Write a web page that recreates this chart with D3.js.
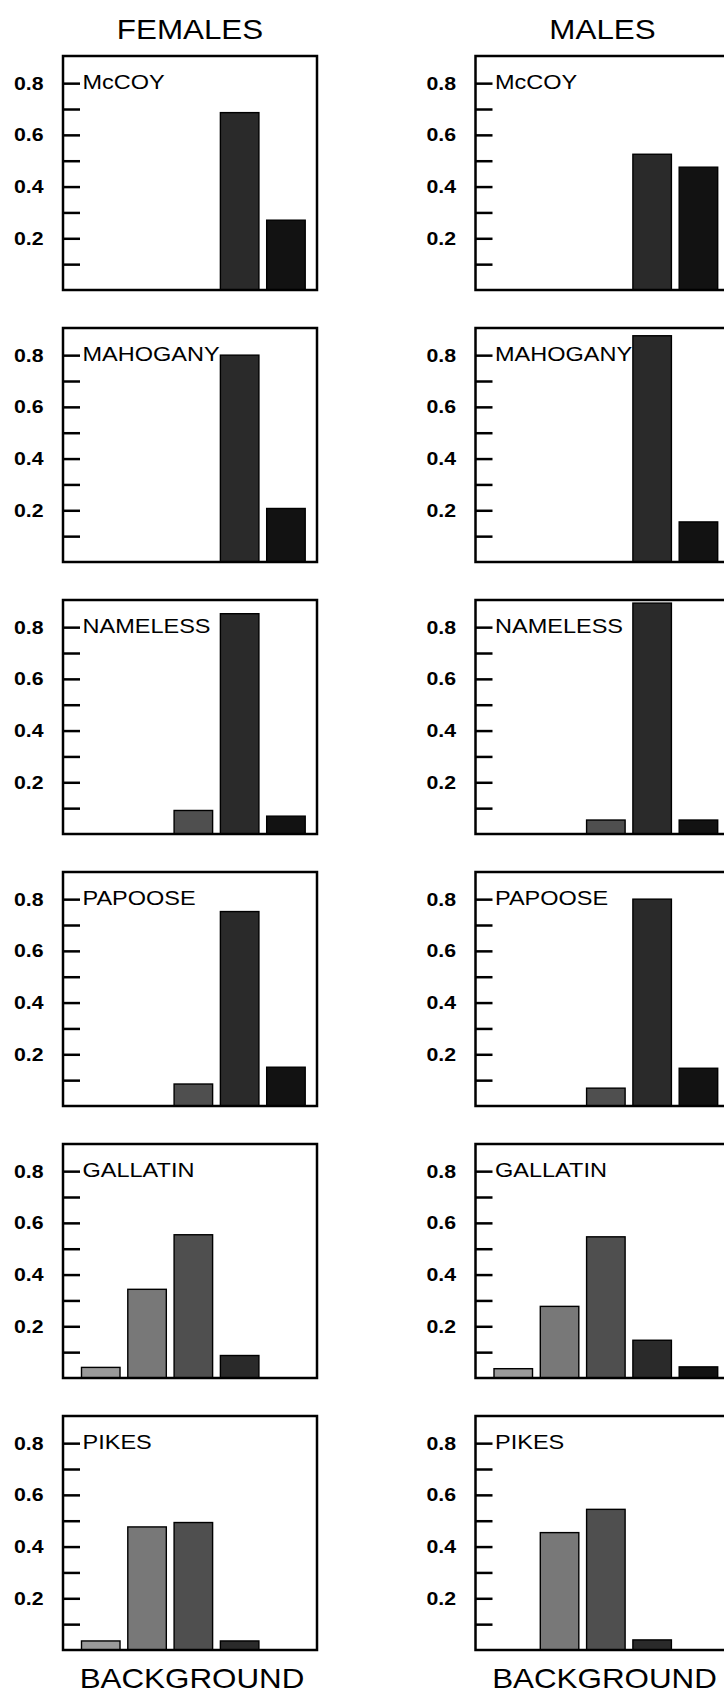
<!DOCTYPE html>
<html>
<head>
<meta charset="utf-8">
<script src="https://cdn.jsdelivr.net/npm/d3@7"></script>
<style>
  html, body { margin: 0; padding: 0; background: #fff; }
  svg { display: block; }
  text { font-family: "Liberation Sans", Arial, sans-serif; fill: #000; }
</style>
</head>
<body>
<svg id="chart" width="724" height="1695"></svg>
<script>
// ---- data ----
const sites = ["McCOY", "MAHOGANY", "NAMELESS", "PAPOOSE", "GALLATIN", "PIKES"];
const categories = ["B1", "B2", "B3", "B4", "B5"];
const femaleValues = [
  [0, 0, 0, 0.686, 0.270],
  [0, 0, 0, 0.800, 0.207],
  [0, 0, 0.091, 0.852, 0.069],
  [0, 0, 0.085, 0.752, 0.150],
  [0.041, 0.343, 0.554, 0.087, 0],
  [0.035, 0.476, 0.493, 0.035, 0]
];
const maleValues = [
  [0, 0, 0, 0.525, 0.475],
  [0, 0, 0, 0.875, 0.155],
  [0, 0, 0.054, 0.893, 0.054],
  [0, 0, 0.069, 0.800, 0.146],
  [0.036, 0.277, 0.546, 0.146, 0.043],
  [0, 0.454, 0.544, 0.039, 0]
];
const columnTitles = ["FEMALES", "MALES"];
const xTitle = "BACKGROUND";
const tickValues = [0.1, 0.2, 0.3, 0.4, 0.5, 0.6, 0.7, 0.8];
const labelledTicks = [0.2, 0.4, 0.6, 0.8];
const barColors = ["#9a9a9a", "#787878", "#4f4f4f", "#2a2a2a", "#121212"];

// ---- layout ----
const SX = 1.12; // horizontal text stretch seen in the reference
const panelW = 254, panelH = 234;
const colLeft = [63, 475.5];
const firstBottom = 290, rowStep = 272;

const svg = d3.select("#chart");

const x = d3.scaleBand().domain(categories).range([18.5, 242.2]).paddingInner(0.168).paddingOuter(0);
const y = d3.scaleLinear().domain([0, 0.905]).range([panelH, 0]);

function stretchedText(g, tx, ty, str, size, anchor, weight) {
  return g.append("text")
    .attr("transform", `translate(${tx},${ty}) scale(${SX},1)`)
    .attr("text-anchor", anchor)
    .attr("font-size", size)
    .attr("font-weight", weight || "normal")
    .text(str);
}

[femaleValues, maleValues].forEach((data, c) => {
  const left = colLeft[c];
  // column title
  stretchedText(svg, left + panelW / 2, 38.5, columnTitles[c], 28, "middle");
  sites.forEach((site, r) => {
    const top = firstBottom + r * rowStep - panelH;
    const g = svg.append("g").attr("transform", `translate(${left},${top})`);

    // site label next to the 0.8 tick
    stretchedText(g, 19.5, y(0.8) + 6, site, 21, "start");

    // bars
    const rows = categories.map((k, i) => ({ k, v: data[r][i], i })).filter(d => d.v > 0);
    g.selectAll("rect.bar").data(rows).join("rect")
      .attr("class", "bar")
      .attr("x", d => x(d.k))
      .attr("width", x.bandwidth())
      .attr("y", d => y(d.v))
      .attr("height", d => y(0) - y(d.v))
      .attr("fill", d => barColors[d.i])
      .attr("stroke", "#000")
      .attr("stroke-width", 1.4);

    // frame
    g.append("rect")
      .attr("x", 0).attr("y", 0)
      .attr("width", panelW).attr("height", panelH)
      .attr("fill", "none")
      .attr("stroke", "#000")
      .attr("stroke-width", 2.5);

    // y axis: inward ticks, labels outside
    const axis = d3.axisLeft(y)
      .tickValues(tickValues)
      .tickSizeInner(-17)
      .tickSizeOuter(0)
      .tickPadding(19.5)
      .tickFormat(d => labelledTicks.some(t => Math.abs(t - d) < 1e-9) ? d3.format(".1f")(d) : "");
    const ag = g.append("g").call(axis);
    ag.select(".domain").remove();
    ag.selectAll(".tick line").attr("stroke", "#000").attr("stroke-width", 2.5);
    ag.selectAll(".tick text")
      .attr("font-family", "'Liberation Sans', Arial, sans-serif")
      .attr("font-size", 19)
      .attr("font-weight", "bold")
      .attr("fill", "#000")
      .attr("x", -19.5 / SX)
      .attr("transform", `scale(${SX},1)`);
  });
  // x-axis title
  stretchedText(svg, left + panelW / 2 + 2, 1688, xTitle, 28, "middle");
});
</script>
</body>
</html>
